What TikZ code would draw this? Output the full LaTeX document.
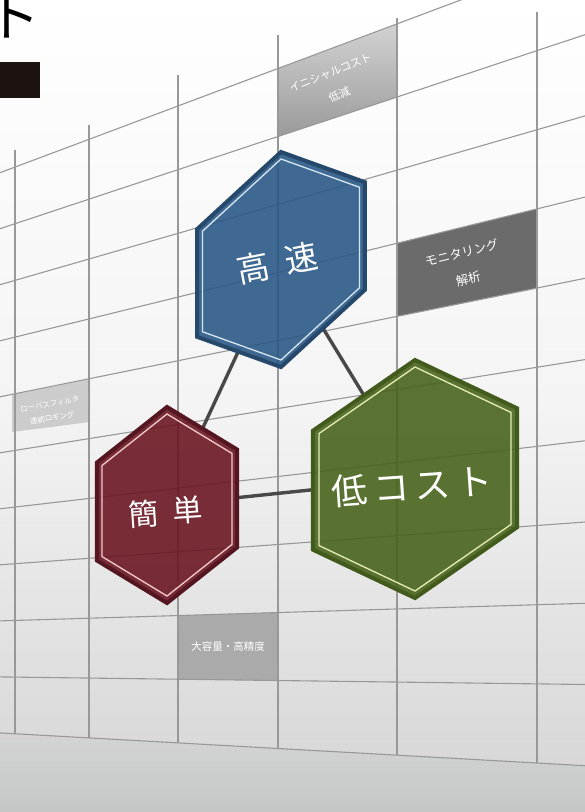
\documentclass[tikz,border=0pt]{standalone}
\usepackage{fontspec}
\newfontfamily\jp{Noto Sans CJK JP}
\usetikzlibrary{shapes.geometric}
\pgfdeclarelayer{bglayer}
\pgfdeclarelayer{connlayer}
\pgfsetlayers{bglayer,connlayer,main}
\definecolor{bgmid}{RGB}{244,244,244}
\definecolor{bgbot}{RGB}{212,212,212}
\definecolor{floortop}{RGB}{212,212,212}
\definecolor{floorbot}{RGB}{197,199,199}
\definecolor{gridc}{RGB}{152,152,152}
\definecolor{titlebar}{RGB}{28,19,16}
\definecolor{boxlight}{RGB}{204,204,204}
\definecolor{boxinitA}{RGB}{210,210,210}
\definecolor{boxinitB}{RGB}{154,154,154}
\definecolor{boxdark}{RGB}{107,107,107}
\definecolor{boxmid}{RGB}{170,170,170}
\definecolor{connc}{RGB}{72,72,72}
\definecolor{speedfill}{RGB}{38,86,132}
\definecolor{speedborder}{RGB}{38,72,106}
\definecolor{speedline}{RGB}{214,230,242}
\definecolor{costfill}{RGB}{69,97,24}
\definecolor{costborder}{RGB}{66,90,28}
\definecolor{costline}{RGB}{228,238,178}
\definecolor{easyfill}{RGB}{104,18,30}
\definecolor{easyborder}{RGB}{84,22,32}
\definecolor{easyline}{RGB}{242,204,204}
\begin{document}
\begin{tikzpicture}[x=1pt,y=-1pt,
  gridline/.style={draw=gridc,line width=1.1pt},
  hexbase/.style={regular polygon,regular polygon sides=6,shape border rotate=30,
    inner sep=0pt,outer sep=0pt,transform shape},
  conn/.style={draw=connc,line width=3.4pt},
  hexlabel/.style={text=white,inner sep=0pt},
  boxtext/.style={text=white,align=center,inner sep=0pt}]
\useasboundingbox (0,0) rectangle (585,812);
\clip (0,0) rectangle (585,812);

\begin{pgfonlayer}{bglayer}
  % background
  \shade[top color=white,bottom color=bgbot,middle color=bgmid] (0,0) rectangle (585,812);
  \shade[top color=floortop,bottom color=floorbot] (0,732.9) -- (585,765.7) -- (585,812) -- (0,812) -- cycle;
  % gray boxes
  \shade[top color=boxinitA,bottom color=boxinitB] (278,68.5) -- (397,23.9) -- (397,97.0) -- (278,136.5) -- cycle;
  \fill[boxdark] (397,243.3) -- (537,208.9) -- (537,288.1) -- (397,316.4) -- cycle;
  \fill[boxlight] (12,394.8) -- (90,379.2) -- (90,422) -- (12,432) -- cycle;
  \fill[boxmid] (178,615.5) -- (278,612.5) -- (278,680.5) -- (178,679.2) -- cycle;
  % perspective grid
  \foreach \ya/\yb in {172.7/-46.6,228.7/34.7,284.7/115.9,340.8/197.1,396.8/278.3,
      452.8/359.6,508.8/440.8,564.8/522.0,620.9/603.3,676.9/684.5,732.9/765.7}
    \draw[gridline] (0,\ya) -- (585,\yb);
  \foreach \x/\ya/\yb in {15/150/733.8,89/125/737.9,178/75/742.9,278/35/748.5,397/18/755.2,537/12/763.0}
    \draw[gridline] (\x,\ya) -- (\x,\yb);
  % box texts
  \node[boxtext,rotate=22,font=\jp\fontsize{11}{24}\selectfont] (initial) at (335,84) {イニシャルコスト\\低減};
  \node[boxtext,rotate=14,font=\jp\fontsize{12.5}{27}\selectfont] (monitor) at (465,266) {モニタリング\\解析};
  \node[boxtext,rotate=10,font=\jp\fontsize{7.5}{14}\selectfont] (logging) at (51,411) {ローパスフィルタ\\連続ロギング};
  \node[boxtext,font=\jp\fontsize{10.5}{12}\selectfont] (capacity) at (228,647) {大容量・高精度};
  % title remnants
  \fill[titlebar] (0,62) rectangle (40,98);
  \node[anchor=base west,inner sep=0pt,font=\jp\fontsize{54}{54}\selectfont] (title) at (-14,36) {ト};
\end{pgfonlayer}

% hexagons
\begin{scope}[shift={(281,259.5)},yslant=0.28,xscale=0.902]
  \node[hexbase,minimum size=215pt,fill=speedfill,fill opacity=0.88,draw=speedborder,line width=4pt] (speed) at (0,0) {};
  \node[hexbase,minimum size=201pt,draw=speedline,line width=1.3pt] (speedin) at (0,0) {};
\end{scope}
\begin{scope}[shift={(415,479)},yslant=0.11,xscale=0.99]
  \node[hexbase,minimum size=238pt,fill=costfill,fill opacity=0.88,draw=costborder,line width=4pt] (cost) at (0,0) {};
  \node[hexbase,minimum size=224pt,draw=costline,line width=1.3pt] (costin) at (0,0) {};
\end{scope}
\begin{scope}[shift={(167,505)},yslant=0.093,xscale=0.825]
  \node[hexbase,minimum size=196pt,fill=easyfill,fill opacity=0.88,draw=easyborder,line width=4pt] (easy) at (0,0) {};
  \node[hexbase,minimum size=182pt,draw=easyline,line width=1.3pt] (easyin) at (0,0) {};
\end{scope}

% labels
\node[hexlabel,rotate=11,font=\jp\fontsize{33}{33}\selectfont] (speedtext) at (277,263) {高\hspace{16pt}速};
\node[hexlabel,rotate=4,font=\jp\fontsize{36}{36}\selectfont] (costtext) at (412,486) {低\hspace{6pt}コ\hspace{6pt}ス\hspace{6pt}ト};
\node[hexlabel,rotate=4,font=\jp\fontsize{30}{30}\selectfont] (easytext) at (166,512) {簡\hspace{14pt}単};

% connectors
\begin{pgfonlayer}{connlayer}
  \draw[conn] (speed) -- (easy);
  \draw[conn] (speed) -- (cost);
  \draw[conn] (easy) -- (cost);
\end{pgfonlayer}
\end{tikzpicture}
\end{document}
